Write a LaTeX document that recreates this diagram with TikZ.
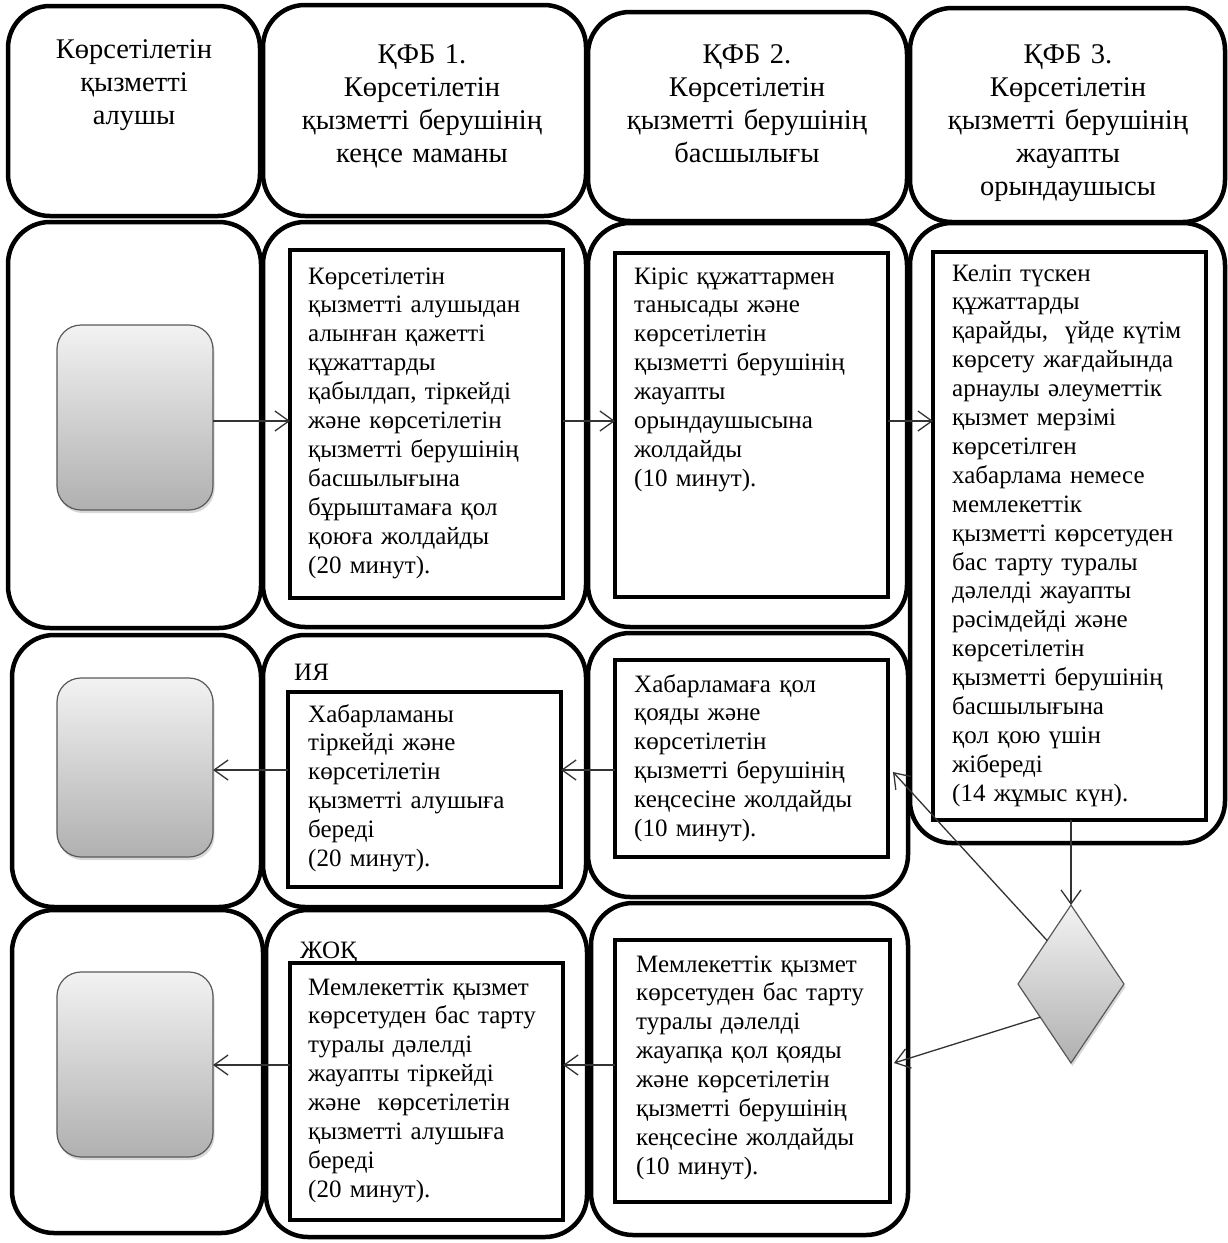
\documentclass[tikz,border=0pt]{standalone}
\usepackage{fontspec}
\setmainfont{Liberation Serif}
\usetikzlibrary{arrows.meta,shapes.geometric,shadows,calc}

\newcommand\placebox[6]{%
  \pgfmathsetmacro\pbw{#5-#3}\pgfmathsetmacro\pbh{#6-#4}%
  \pgfmathsetmacro\pbx{(#3+#5)/2}\pgfmathsetmacro\pby{(#4+#6)/2}%
  \node[#1, minimum width=\pbw pt, minimum height=\pbh pt] (#2) at (\pbx,\pby) {};}

\begin{document}
\begin{tikzpicture}[x=1pt,y=-1pt,
  lane/.style={draw=black, line width=4.5pt, rounded corners=42pt, inner sep=0pt, outer sep=0pt},
  ibox/.style={draw=black, line width=4pt, inner sep=0pt, outer sep=0pt},
  gbox/.style={draw=black!65, line width=1.2pt, rounded corners=24pt, top color=gray!10, bottom color=gray!62,
    drop shadow={opacity=0.3, shadow xshift=1.5pt, shadow yshift=-3pt}, inner sep=0pt, outer sep=0pt},
  dia/.style={diamond, draw=black!65, line width=1.2pt, top color=gray!10, bottom color=gray!62,
    drop shadow={opacity=0.3, shadow xshift=1.5pt, shadow yshift=-3pt}, inner sep=0pt, outer sep=0pt,
    minimum width=106pt, minimum height=158pt},
  arr/.style={draw=black!80, line width=1.3pt, -{Straight Barb[length=14pt,width=20pt]}},
  body/.style={font=\fontsize{25pt}{28.9pt}\selectfont, align=left, text width=290pt, inner sep=0pt, anchor=base west},
  head/.style={font=\fontsize{28.5pt}{33pt}\selectfont, align=center, text width=310pt, inner sep=0pt, anchor=base}
]
\useasboundingbox (0,0) rectangle (1227,1243);
\fill[white] (0,0) rectangle (1227,1243);

% header lanes
\placebox{lane}{H1}{8}{6}{260}{216}
\placebox{lane}{H2}{263}{5}{586}{216}
\placebox{lane}{H3}{588}{12}{907}{221}
\placebox{lane}{H4}{910}{8}{1225}{222}
% row 2
\placebox{lane}{L21}{8}{222}{261}{628}
\placebox{lane}{L22}{263}{222}{586}{627}
\placebox{lane}{L23}{588}{223}{907}{627}
\placebox{lane}{L24}{910}{223}{1225}{843}
% row 3
\placebox{lane}{L31}{12}{635}{261}{907}
\placebox{lane}{L32}{263}{635}{586}{907}
\placebox{lane}{L33}{588}{633}{908}{897}
% row 4
\placebox{lane}{L41}{12}{910}{263}{1233}
\placebox{lane}{L42}{266}{910}{587}{1237}
\placebox{lane}{L43}{591}{903}{908}{1235}

% inner boxes
\placebox{ibox}{B1}{290}{250}{563}{598}
\placebox{ibox}{B2}{615}{253}{888}{597}
\placebox{ibox}{B3}{933}{252}{1206}{820}
\placebox{ibox}{B4}{615}{660}{888}{857}
\placebox{ibox}{B5}{288}{692}{561}{887}
\placebox{ibox}{B6}{615}{940}{890}{1202}
\placebox{ibox}{B7}{290}{963}{563}{1220}

% grey rounded boxes
\placebox{gbox}{G1}{57}{325}{213}{510}
\placebox{gbox}{G2}{57}{678}{213}{857}
\placebox{gbox}{G3}{57}{972}{213}{1157}

% decision diamond
\node[dia] (D) at (1071,984) {};

% connectors
\coordinate (ya) at (0,421);
\coordinate (yb) at (0,770);
\coordinate (yc) at (0,1065);
\coordinate (tipb) at (893,772);
\coordinate (tipc) at (894,1063);
\draw[arr] (G1.east |- ya) -- (B1.west |- ya);
\draw[arr] (B1.east |- ya) -- (B2.west |- ya);
\draw[arr] (B2.east |- ya) -- (B3.west |- ya);
\draw[arr] (D.north |- B3.south) -- (D.north);
\draw[arr] ($(D.west)!0.55!(D.north)$) -- (tipb);
\draw[arr] ($(D.west)!0.42!(D.south)$) -- (tipc);
\draw[arr] (B4.west |- yb) -- (B5.east |- yb);
\draw[arr] (B5.west |- yb) -- (G2.east |- yb);
\draw[arr] (B6.west |- yc) -- (B7.east |- yc);
\draw[arr] (B7.west |- yc) -- (G3.east |- yc);

% header texts
\node[head] (H1t) at (134,58) {Көрсетілетін\\ қызметті\\ алушы};
\node[head] (H2t) at (422,63) {ҚФБ 1.\\ Көрсетілетін\\ қызметті берушінің\\ кеңсе маманы};
\node[head] (H3t) at (747,63) {ҚФБ 2.\\ Көрсетілетін\\ қызметті берушінің\\ басшылығы};
\node[head] (H4t) at (1068,63) {ҚФБ 3.\\ Көрсетілетін\\ қызметті берушінің\\ жауапты\\ орындаушысы};

% body texts
\node[body] (B1t) at (308,284) {Көрсетілетін\\ қызметті алушыдан\\ алынған қажетті\\ құжаттарды\\ қабылдап, тіркейді\\ және көрсетілетін\\ қызметті берушінің\\ басшылығына\\ бұрыштамаға қол\\ қоюға жолдайды\\ (20 минут).};
\node[body] (B2t) at (634,284) {Кіріс құжаттармен\\ танысады және\\ көрсетілетін\\ қызметті берушінің\\ жауапты\\ орындаушысына\\ жолдайды\\ (10 минут).};
\node[body] (B3t) at (952,281) {Келіп түскен\\ құжаттарды\\ қарайды, \ үйде күтім\\ көрсету жағдайында\\ арнаулы әлеуметтік\\ қызмет мерзімі\\ көрсетілген\\ хабарлама немесе\\ мемлекеттік\\ қызметті көрсетуден\\ бас тарту туралы\\ дәлелді жауапты\\ рәсімдейді және\\ көрсетілетін\\ қызметті берушінің\\ басшылығына\\ қол қою үшін\\ жібереді\\ (14 жұмыс күн).};
\node[body] (B4t) at (634,692) {Хабарламаға қол\\ қояды және\\ көрсетілетін\\ қызметті берушінің\\ кеңсесіне жолдайды\\ (10 минут).};
\node[body] (B5t) at (308,722) {Хабарламаны\\ тіркейді және\\ көрсетілетін\\ қызметті алушыға\\ береді\\ (20 минут).};
\node[body] (B6t) at (636,972) {Мемлекеттік қызмет\\ көрсетуден бас тарту\\ туралы дәлелді\\ жауапқа қол қояды\\ және көрсетілетін\\ қызметті берушінің\\ кеңсесіне жолдайды\\ (10 минут).};
\node[body] (B7t) at (308,995) {Мемлекеттік қызмет\\ көрсетуден бас тарту\\ туралы дәлелді\\ жауапты тіркейді\\ және \ көрсетілетін\\ қызметті алушыға\\ береді\\ (20 минут).};
\node[body] (yes) at (294,680) {ИЯ};
\node[body] (no) at (300,958) {ЖОҚ};
\end{tikzpicture}
\end{document}
